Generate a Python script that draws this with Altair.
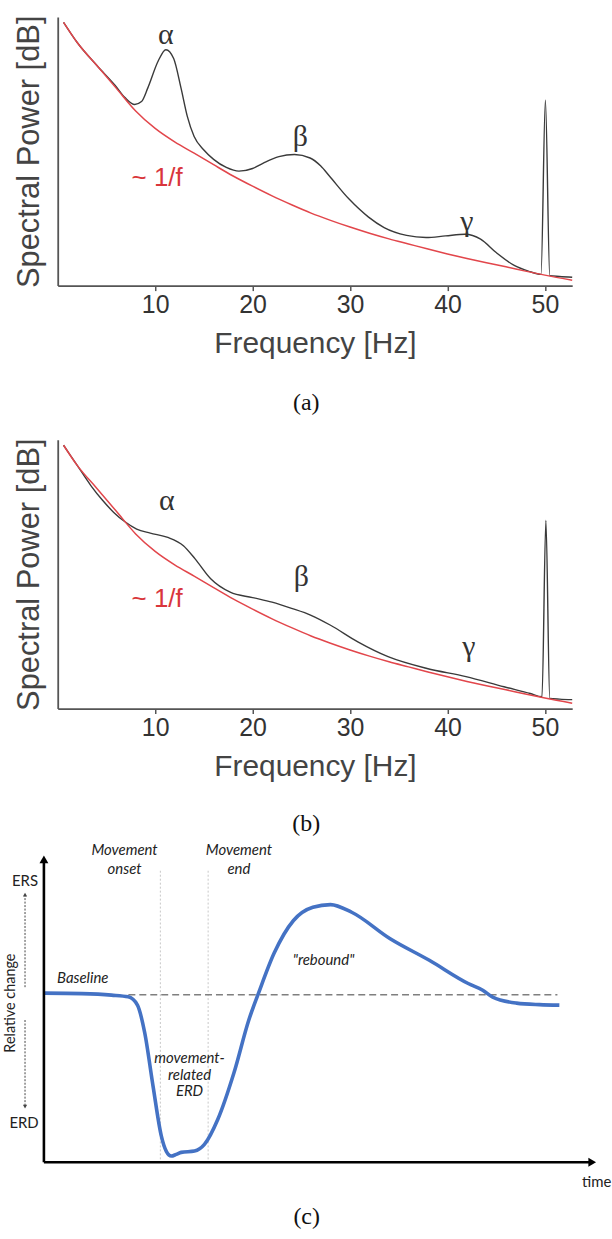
import altair as alt
import pandas as pd

# ---------------- data ----------------
# ~1/f reference curve (red), same in panels (a) and (b)
RED_F = [0.6, 2, 4, 6, 8, 10, 12, 14, 16, 18, 20, 22, 24, 26, 28, 30, 32, 34, 36, 38, 40, 42, 44, 46, 48, 50, 52.8]
RED_V = [98, 90.5, 82, 73.5, 65, 58.5, 53.5, 49.3, 45, 40.8, 37, 33.4, 30.1, 27, 24.3, 21.8, 19.5, 17.4, 15.5, 13.6, 11.8, 10.1, 8.5, 7.0, 5.4, 3.9, 2.0]

# panel (a): spectrum with clear peaks
A_F = [0.6, 2, 4, 5.9, 6.9, 7.9, 8.6, 9.25, 10.3, 11.1, 11.9, 12.65, 13.3, 14, 15, 16, 17.3, 18.6, 20, 21.1,
       22.7, 24.3, 25.9, 27, 27.9, 29.9, 31.9, 33.5, 35.8, 37.8, 39.8, 41.8, 43.4, 45, 46.9, 48.3, 49.6, 50.05,
       50.5, 51.5, 52.8]
A_V = [98, 90.5, 82, 74.5, 70, 67.4, 68.5, 73.6, 83.5, 87.8, 84.5, 73.6, 63, 55.5, 50.5, 47, 44, 42.6, 43.6, 45.6,
       48, 48.8, 47.5, 44.5, 40.7, 32.2, 25.5, 21.6, 18.7, 17.9, 18.5, 19.1, 17.3, 12.3, 7.4, 5.4, 4.2, 69,
       3.7, 3.4, 3.1]

# panel (b): attenuated peaks
B_F = [0.6, 2, 3.4, 4.6, 5.75, 6.9, 8.1, 9.5, 11.3, 12.9, 14.1, 15.7, 17.7, 20, 22, 24, 26, 28, 30.8, 33.9,
       37.9, 41.9, 45.8, 48.5, 49.7, 50.1, 50.5, 51.5, 52.8]
B_V = [98, 90.5, 83, 77.5, 73, 69.5, 66.8, 65.3, 63.7, 60.6, 55.7, 48.3, 43.3, 41.3, 39.6, 37.3, 34.7, 31, 24.8,
       19.3, 14.9, 11.9, 8.1, 5.6, 4.4, 70, 3.8, 3.5, 3.3]

FREQ_TICKS = [10, 20, 30, 40, 50]
GREEK = ["α", "β", "γ"]
A_GREEK_F = [11.1, 24.9, 42.0]
A_GREEK_V = [93.3, 55.2, 23.7]
B_GREEK_F = [11.2, 25.0, 42.2]
B_GREEK_V = [77.4, 48.9, 23.0]
ONEF_LABEL = ["~ 1/f"]
A_ONEF_F, A_ONEF_V = [10.2], [40.0]
B_ONEF_F, B_ONEF_V = [10.2], [40.8]
CAPTIONS = ["(a)", "(b)", "(c)"]
AB_CAP_F = [25.5, 25.5]
AB_CAP_V = [-43.7, -43.0]

# panel (c): ERD/ERS time course
C_T = [0, 6.85, 12.25, 15.26, 16.94, 18.26, 19.77, 21.27, 22.17, 23.07, 23.97, 24.87, 27.27, 29.07, 31.48,
       34.42, 37.11, 38.87, 41.68, 45.2, 48.71, 51.9, 55.74, 62.71, 69.8, 76.84, 79.47, 81.28, 85.6, 89.75, 93.35]
C_V = [0.15, 0.1, -0.05, -0.22, -1.05, -3.85, -9.22, -14.22, -15.75, -16.22, -16.05, -15.85, -15.72, -15.05,
       -12.55, -7.85, -2.55, 0.15, 4.15, 7.45, 8.78, 9.05, 8.28, 5.62, 3.45, 1.12, 0.45, -0.25, -0.85, -1.0, -1.05]
MOVE_T = [21.09, 29.74]          # movement onset / end
MOVE_V_TOP, AXIS_V = 12.45, -16.85
BASE_T = [15.3, 93.0]            # dashed baseline span
Y_ARROW_TOP = 13.95
X_ARROW_END = 100.0

C_TEXT_ITALIC = pd.DataFrame({
    "t": [14.6, 14.6, 35.32, 35.32, 7.03, 50.64, 26.37, 26.37, 26.37],
    "v": [14.55, 12.65, 14.55, 12.65, 1.62, 3.45, -6.38, -8.05, -9.72],
    "label": ["Movement", "onset", "Movement", "end", "Baseline", '"rebound"', "movement-", "related", "ERD"],
})
C_TEXT_PLAIN = pd.DataFrame({
    "t": [-3.42, -3.6, 100.1],
    "v": [11.45, -12.95, -18.85],
    "label": ["ERS", "ERD", "time"],
})
C_YTITLE = pd.DataFrame({"t": [-5.9], "v": [-0.85], "label": ["Relative change"]})
C_CAP = pd.DataFrame({"t": [47.58], "v": [-22.35], "label": [CAPTIONS[2]]})
ARROW_T = -3.42
UP_ARROW = (0.75, 10.0)
DOWN_ARROW = (-2.55, -11.2)

SANS = "Liberation Sans"
SERIF = "Liberation Serif"
CAL = "Lato"

# ---------------- panels (a), (b) ----------------
def spectrum(f_black, v_black, gf, gv, of, ov, cap, cf, cv):
    x_axis = alt.Axis(values=FREQ_TICKS, format="d", grid=False, tickSize=5, tickWidth=1.5, tickColor="#555",
                      domainColor="#555", domainWidth=1.8, labelFont=SANS, labelFontSize=25,
                      labelColor="#333", labelPadding=2, title="Frequency [Hz]", titleFont=SANS,
                      titleFontSize=30, titleFontWeight="normal", titleColor="#444", titleY=58,
                      titleBaseline="middle")
    y_axis = alt.Axis(labels=False, ticks=False, grid=False, domainColor="#555", domainWidth=1.8,
                      title="Spectral Power [dB]", titleFont=SANS, titleFontSize=31,
                      titleFontWeight="normal", titleColor="#444", titleX=-28, titleBaseline="middle")
    X = alt.X("f:Q", scale=alt.Scale(domain=[0, 52.8], nice=False, zero=False), axis=x_axis)
    Y = alt.Y("v:Q", scale=alt.Scale(domain=[0, 100], nice=False, zero=False), axis=y_axis)
    black = alt.Chart(pd.DataFrame({"f": f_black, "v": v_black})).mark_line(
        color="#3a3a3a", strokeWidth=1.4, interpolate="monotone").encode(x=X, y=Y)
    red = alt.Chart(pd.DataFrame({"f": RED_F, "v": RED_V})).mark_line(
        color="#e2464b", strokeWidth=1.5, interpolate="monotone").encode(x=X, y=Y)
    greek = alt.Chart(pd.DataFrame({"f": gf, "v": gv, "label": GREEK})).mark_text(
        font=SERIF, fontSize=30, color="#333").encode(x=X, y=Y, text="label:N")
    onef = alt.Chart(pd.DataFrame({"f": of, "v": ov, "label": ONEF_LABEL})).mark_text(
        font=SANS, fontSize=26, color="#d9363b").encode(x=X, y=Y, text="label:N")
    capt = alt.Chart(pd.DataFrame({"f": [cf], "v": [cv], "label": [cap]})).mark_text(
        font=SERIF, fontSize=24, color="#111").encode(x=X, y=Y, text="label:N")
    return alt.layer(black, red, greek, onef, capt).properties(width=517, height=270)


panel_a = spectrum(A_F, A_V, A_GREEK_F, A_GREEK_V, A_ONEF_F, A_ONEF_V, CAPTIONS[0], AB_CAP_F[0], AB_CAP_V[0])
panel_b = spectrum(B_F, B_V, B_GREEK_F, B_GREEK_V, B_ONEF_F, B_ONEF_V, CAPTIONS[1], AB_CAP_F[1], AB_CAP_V[1])

# ---------------- panel (c) ----------------
TX = alt.X("t:Q", scale=alt.Scale(domain=[2.5, 100], nice=False, zero=False), axis=None)
VY = alt.Y("v:Q", scale=alt.Scale(domain=[AXIS_V, 13.25], nice=False, zero=False), axis=None)

curve = alt.Chart(pd.DataFrame({"t": C_T, "v": C_V})).mark_line(
    color="#4472c4", strokeWidth=3.6, interpolate="monotone").encode(x=TX, y=VY)
base = alt.Chart(pd.DataFrame({"t": [BASE_T[0]], "t2": [BASE_T[1]], "v": [0.0]})).mark_rule(
    color="#7f7f7f", strokeWidth=1.5, strokeDash=[7, 4]).encode(x=TX, x2="t2:Q", y=VY)
moves = alt.Chart(pd.DataFrame({"t": MOVE_T, "v": [MOVE_V_TOP] * 2, "v2": [AXIS_V] * 2})).mark_rule(
    color="#c8c8c8", strokeWidth=1, strokeDash=[2, 2]).encode(x=TX, y=VY, y2="v2:Q")
y_axis_line = alt.Chart(pd.DataFrame({"t": [0.0], "v": [AXIS_V], "v2": [Y_ARROW_TOP - 0.5]})).mark_rule(
    color="black", strokeWidth=2.6).encode(x=TX, y=VY, y2="v2:Q")
x_axis_line = alt.Chart(pd.DataFrame({"t": [0.0], "t2": [X_ARROW_END - 0.8], "v": [AXIS_V]})).mark_rule(
    color="black", strokeWidth=2.6).encode(x=TX, x2="t2:Q", y=VY)
head_up = alt.Chart(pd.DataFrame({"t": [0.0], "v": [Y_ARROW_TOP - 0.36]})).mark_point(
    shape="triangle-up", filled=True, size=80, color="black", opacity=1).encode(x=TX, y=VY)
head_right = alt.Chart(pd.DataFrame({"t": [X_ARROW_END - 0.7], "v": [AXIS_V]})).mark_point(
    shape="triangle-right", filled=True, size=80, color="black", opacity=1).encode(x=TX, y=VY)
dash_arrows = alt.Chart(pd.DataFrame({"t": [ARROW_T, ARROW_T], "v": [UP_ARROW[0], DOWN_ARROW[0]],
                                      "v2": [UP_ARROW[1], DOWN_ARROW[1]]})).mark_rule(
    color="#444", strokeWidth=1, strokeDash=[2, 1.5]).encode(x=TX, y=VY, y2="v2:Q")
small_up = alt.Chart(pd.DataFrame({"t": [ARROW_T], "v": [UP_ARROW[1] + 0.05]})).mark_point(
    shape="triangle-up", filled=True, size=18, color="#444", opacity=1).encode(x=TX, y=VY)
small_down = alt.Chart(pd.DataFrame({"t": [ARROW_T], "v": [DOWN_ARROW[1] - 0.05]})).mark_point(
    shape="triangle-down", filled=True, size=18, color="#444", opacity=1).encode(x=TX, y=VY)
italic = alt.Chart(C_TEXT_ITALIC).mark_text(font=CAL, fontSize=15, fontStyle="italic",
                                            color="#222").encode(x=TX, y=VY, text="label:N")
plain = alt.Chart(C_TEXT_PLAIN).mark_text(font=CAL, fontSize=15, color="#222").encode(
    x=TX, y=VY, text="label:N")
ytitle = alt.Chart(C_YTITLE).mark_text(font=CAL, fontSize=14.5, color="#222", angle=270).encode(
    x=TX, y=VY, text="label:N")
capc = alt.Chart(C_CAP).mark_text(font=SERIF, fontSize=24, color="#111").encode(x=TX, y=VY, text="label:N")

panel_c = alt.layer(moves, base, curve, y_axis_line, x_axis_line, head_up, head_right, dash_arrows,
                    small_up, small_down, italic, plain, ytitle, capc).properties(width=541, height=301)

chart = alt.vconcat(panel_a, panel_b, panel_c, spacing=155, bounds="flush").configure_view(
    stroke=None).properties(padding={"left": 3, "top": 12, "right": 0, "bottom": 0})

chart.save("out.html", embed_options={"renderer": "svg", "actions": False})
